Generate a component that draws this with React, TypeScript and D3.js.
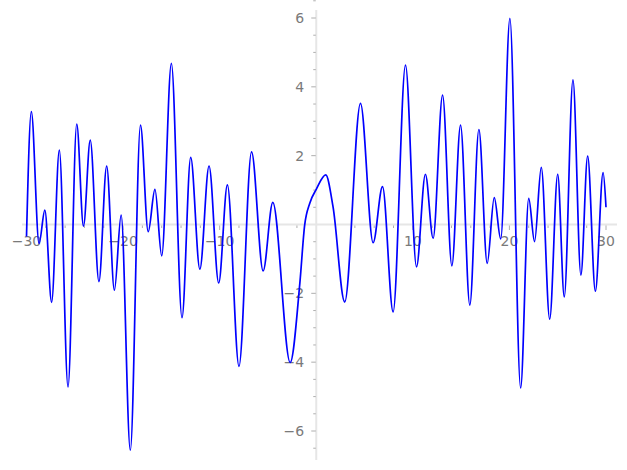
import * as d3 from 'd3';
import { useEffect, useRef } from 'react';

// points (mostly its peaks and troughs)
const curveX = [
    -30, -29.5, -28.7, -28.1, -27.4, -26.6, -25.7, -24.8, -24.1, -23.4, -22.5, -21.7, -20.9, -20.2,
    -19.25, -18.2, -17.4, -16.7, -16.0, -15.0, -13.9, -13.0, -12.05, -11.1, -10.1, -9.2, -8.0,
    -6.7, -5.5, -4.5, -2.7, -1.7, -1.2, -0.67, 0.0, 0.98, 1.74, 2.95, 4.58, 5.89, 6.86, 7.96,
    9.24, 10.38, 11.3, 12.1, 13.08, 14.04, 14.94, 15.9, 16.84, 17.7, 18.43, 19.1, 20.05, 21.16,
    22.0, 22.6, 23.3, 24.17, 25.0, 25.68, 26.58, 27.4, 28.1, 28.9, 29.7, 30
];
const curveY = [
    -0.35, 3.28, -0.55, 0.42, -2.26, 2.16, -4.72, 2.92, -0.05, 2.45, -1.66, 1.70, -1.91, 0.27,
    -6.56, 2.89, -0.21, 1.02, -0.91, 4.68, -2.71, 1.95, -1.30, 1.70, -1.70, 1.15, -4.12,
    2.11, -1.35, 0.64, -4.01, -1.71, -0.02, 0.62, 1.02, 1.44, 0.51, -2.25, 3.52, -0.53, 1.10, -2.54,
    4.63, -1.23, 1.46, -0.40, 3.76, -1.20, 2.89, -2.34, 2.76, -1.13, 0.78, -0.42, 5.99, -4.75,
    0.76, -0.50, 1.66, -2.75, 1.46, -2.10, 4.20, -1.47, 1.99, -1.94, 1.51, 0.50
];
const xTickValues = [-30, -20, -10, 10, 20, 30];
const yTickValues = [-6, -4, -2, 2, 4, 6];

const App = () => {
    const ref = useRef<SVGSVGElement>(null);
    useEffect(() => {
        DrawChart()
    }, []);
    const DrawChart = () => {
        var svg = d3.select(ref.current);
        svg.selectAll("*").remove();
        var x = d3.scaleLinear().domain([-30, 30]).range([26.5, 606]);
        var y = d3.scaleLinear().domain([-6, 6]).range([431, 18]);
        var axisColor = "#e6e6e6", tickColor = "#999", labelColor = "#7a7a7a";

        // axis lines through the origin
        svg.append("line")
            .attr("x1", 22).attr("x2", 617)
            .attr("y1", y(0)).attr("y2", y(0))
            .attr("stroke", axisColor).attr("stroke-width", 2);
        svg.append("line")
            .attr("x1", x(0)).attr("x2", x(0))
            .attr("y1", 10).attr("y2", 460)
            .attr("stroke", axisColor).attr("stroke-width", 2);

        // x ticks: minor every 2, major every 10
        var xMinor = d3.range(-30, 31, 2).filter(d => d !== 0);
        svg.selectAll(".xtick")
            .data(xMinor)
            .enter().append("line")
            .attr("x1", d => x(d)).attr("x2", d => x(d))
            .attr("y1", y(0) + 1).attr("y2", d => y(0) + (d % 10 === 0 ? 5.5 : 3.5))
            .attr("stroke", tickColor).attr("stroke-width", 0.8);
        svg.selectAll(".xlabel")
            .data(xTickValues)
            .enter().append("text")
            .attr("x", d => x(d))
            .attr("y", y(0) + 21)
            .attr("text-anchor", "middle")
            .attr("fill", labelColor)
            .style("font-family", "DejaVu Sans")
            .style("font-size", "14px")
            .text(d => d < 0 ? "\u2212" + Math.abs(d) : String(d));

        // y ticks: minor every 0.5, major every 2
        var yMinor = d3.range(-6.5, 6.6, 0.5).filter(d => Math.abs(d) > 0.01);
        svg.selectAll(".ytick")
            .data(yMinor)
            .enter().append("line")
            .attr("x1", d => x(0) - (Math.abs(d % 2) < 0.01 ? 5 : 3)).attr("x2", x(0) - 0.5)
            .attr("y1", d => y(d)).attr("y2", d => y(d))
            .attr("stroke", tickColor).attr("stroke-width", 0.8);
        svg.selectAll(".ylabel")
            .data(yTickValues)
            .enter().append("text")
            .attr("x", x(0) - 12)
            .attr("y", d => y(d) + 5)
            .attr("text-anchor", "end")
            .attr("fill", labelColor)
            .style("font-family", "DejaVu Sans")
            .style("font-size", "14px")
            .text(d => d < 0 ? "\u2212" + Math.abs(d) : String(d));

        // the curve
        var line = d3.line<number>()
            .x((d, i) => x(curveX[i]))
            .y(d => y(d))
            .curve(d3.curveMonotoneX);
        svg.append("path")
            .attr("d", line(curveY))
            .attr("fill", "none")
            .attr("stroke", "#0000ff")
            .attr("stroke-width", 1.7);
    }
    return (
        <svg ref={ref} width={627} height={470}
            style={{ position: "absolute", left: 0, top: 0, background: "#fff" }} />
    )
}
export default App;
